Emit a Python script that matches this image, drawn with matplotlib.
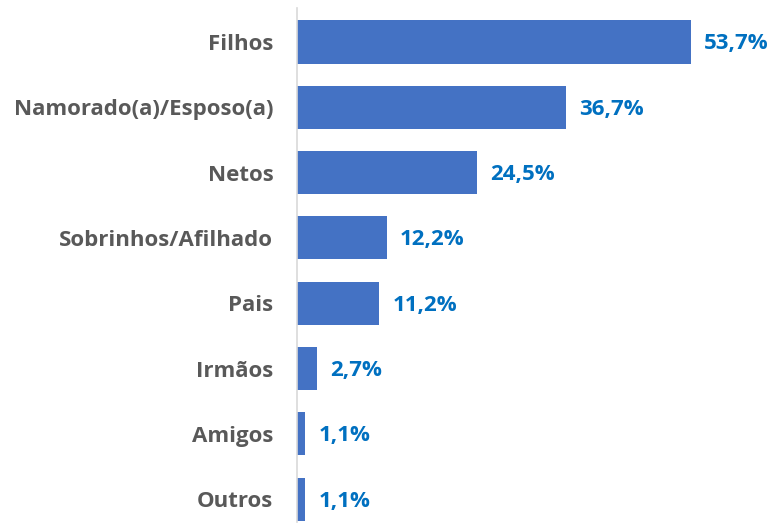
import matplotlib.pyplot as plt

categorias = ["Filhos", "Namorado(a)/Esposo(a)", "Netos", "Sobrinhos/Afilhado",
              "Pais", "Irmãos", "Amigos", "Outros"]
valores = [53.7, 36.7, 24.5, 12.2, 11.2, 2.7, 1.1, 1.1]

plt.rcParams['font.family'] = ['Open Sans', 'DejaVu Sans']

fig = plt.figure(figsize=(7.74, 5.24), dpi=100)
W, H = 774, 524
x0 = 297
ax = fig.add_axes([x0 / W, 0, 1 - x0 / W, 1])

# escala vertical: centro da primeira barra em y=42px, passo de 65.3px
passo = 65.3
c0 = 42
ax.set_ylim((H - c0) / passo, -c0 / passo)
ax.set_xlim(0, (W - x0) / 7.34)

pos = list(range(len(categorias)))
ax.barh(pos, valores, height=0.66, color="#4472C4")

for p, v in zip(pos, valores):
    ax.text(v + 1.8, p + 0.03, f"{v:.1f}%".replace(".", ","), va="center", ha="left",
            color="#0070C0", fontsize=16, fontweight="bold")

ax.set_yticks(pos)
ax.set_yticklabels(categorias, fontsize=16, fontweight="bold", color="#595959")
ax.tick_params(axis="y", length=0, pad=17)
ax.set_xticks([])

for s in ["top", "right", "bottom"]:
    ax.spines[s].set_visible(False)
ax.spines["left"].set_color("#D9D9D9")
ax.spines["left"].set_linewidth(1.2)
ax.spines["left"].set_bounds((522 - c0) / passo, (8 - c0) / passo)

fig.savefig("out.png", dpi=100)
